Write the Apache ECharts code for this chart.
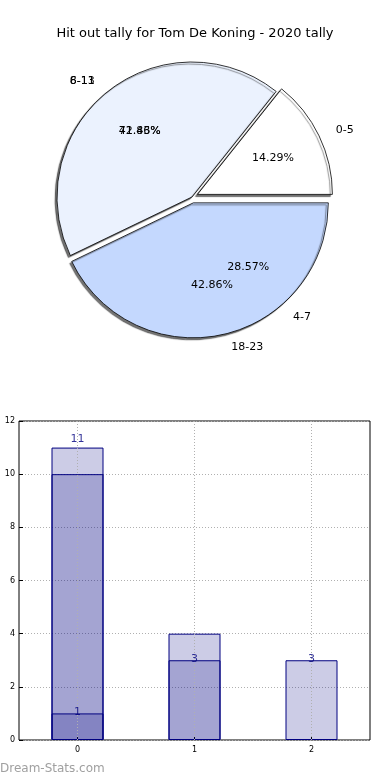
<!DOCTYPE html>
<html><head><meta charset="utf-8">
<script src="https://cdn.jsdelivr.net/npm/echarts@6/dist/echarts.min.js"></script>
<style>html,body{margin:0;padding:0;background:#fff;}#c{width:390px;height:780px;}</style>
</head><body><div id="c"></div>
<script>
// Pie (drawn): categories and counts
const pieNames = ['0-5', '6-11', '18-23'];
const pieValues = [1, 3, 3];
const pieColors = ['#ffffff', '#ebf2fe', '#c4d8fe'];
const pieExploded = [true, false, true];
// Second pie (labels only, overlapped in the original)
const pie2Names = ['8-13', '4-7'];
const pie2Values = [5, 2];
const pie2Exploded = [false, true];
// Bar chart
const barCats = ['0', '1', '2'];
const barLayer1 = [11, 4, 3];
const barLayer2 = [10, 3, 0];
const barLayer3 = [1, 0, 0];
const labelX = ['0', '0', '1', '2'];
const labelY = [11.3, 1.05, 3.05, 3.05];
const labelText = ['11', '1', '3', '3'];
const yTicks = [0, 2, 4, 6, 8, 10, 12];

const FONT = 'DejaVu Sans';
const CENTER = [192, 197];
const R = 135;

function pct(values) {
  const s = values.reduce((a, b) => a + b, 0);
  return p => (p.value / s * 100).toFixed(2) + '%';
}
function pieData(names, values, exploded, colors, transparent) {
  return names.map((n, i) => ({
    name: n, value: values[i], selected: exploded[i],
    itemStyle: transparent ? { color: 'rgba(0,0,0,0)', borderWidth: 0, shadowBlur: 0, shadowColor: 'rgba(0,0,0,0)' } : { color: colors[i] }
  }));
}
const nameLabel = { show: true, position: 'outside', formatter: '{b}', color: '#000', fontFamily: FONT, fontSize: 11 };
const basePie = {
  type: 'pie', center: CENTER, startAngle: 0, clockwise: false,
  selectedMode: 'multiple', selectedOffset: 6, avoidLabelOverlap: false,
  silent: true, animation: false,
  labelLayout: { hideOverlap: false },
  labelLine: { show: false, length: 13, length2: 0 },
  emphasis: { disabled: true }
};
const zeroToDash = arr => arr.map(v => v === 0 ? '-' : v);

const chart = echarts.init(document.getElementById('c'), null, { renderer: 'canvas' });
chart.setOption({
  animation: false,
  title: {
    text: 'Hit out tally for Tom De Koning - 2020 tally', left: 'center', top: 22,
    textStyle: { fontFamily: FONT, fontSize: 13, fontWeight: 'normal', color: '#000' }
  },
  graphic: [{
    type: 'text', left: 0, top: 763,
    style: { text: 'Dream-Stats.com', fill: '#a0a0a0', font: '12px "DejaVu Sans"' }
  }],
  grid: { left: 19, top: 421, width: 351, height: 319, show: true, borderColor: '#000', borderWidth: 1, backgroundColor: 'transparent' },
  xAxis: [{
    type: 'category', data: barCats, gridIndex: 0,
    axisLine: { show: false },
    axisTick: { show: true, inside: true, alignWithLabel: true, length: 4, lineStyle: { color: '#000' } },
    axisLabel: { fontFamily: FONT, fontSize: 8, color: '#000', margin: 6 },
    splitLine: { show: false }
  }],
  yAxis: [{
    type: 'value', min: 0, max: 12, interval: 2, gridIndex: 0,
    axisLine: { show: false },
    axisTick: { show: true, inside: true, length: 4, lineStyle: { color: '#000' } },
    axisLabel: { fontFamily: FONT, fontSize: 8, color: '#000', margin: 4, formatter: v => yTicks.includes(v) ? String(v) : '' },
    splitLine: { show: true, lineStyle: { color: '#b0b0b0', type: [1, 2], width: 1 } }
  }],
  series: [
    Object.assign({}, basePie, {
      radius: [0, R], z: 2,
      itemStyle: { borderColor: '#000', borderWidth: 0.8, shadowColor: 'rgba(0,0,0,0.55)', shadowBlur: 1, shadowOffsetX: -2, shadowOffsetY: 2 },
      label: nameLabel,
      data: pieData(pieNames, pieValues, pieExploded, pieColors, false)
    }),
    Object.assign({}, basePie, {
      radius: [0, R * 1.2], z: 3,
      label: { show: true, position: 'inside', formatter: pct(pieValues), color: '#000', fontFamily: FONT, fontSize: 11 },
      data: pieData(pieNames, pieValues, pieExploded, pieColors, true)
    }),
    Object.assign({}, basePie, {
      radius: [0, R], z: 3,
      label: nameLabel,
      data: pieData(pie2Names, pie2Values, pie2Exploded, null, true)
    }),
    Object.assign({}, basePie, {
      radius: [0, R * 1.2], z: 3,
      label: { show: true, position: 'inside', formatter: pct(pie2Values), color: '#000', fontFamily: FONT, fontSize: 11 },
      data: pieData(pie2Names, pie2Values, pie2Exploded, null, true)
    }),
    {
      type: 'bar', data: zeroToDash(barLayer1), barWidth: 52, barGap: '-100%', silent: true,
      itemStyle: { color: 'rgba(0,0,128,0.2)', borderColor: '#000080', borderWidth: 1 },
      markLine: {
        silent: true, symbol: 'none', label: { show: false },
        lineStyle: { color: '#b0b0b0', type: [1, 2], width: 1 },
        data: barCats.map(c => ({ xAxis: c }))
      }
    },
    {
      type: 'bar', data: zeroToDash(barLayer2), barWidth: 52, barGap: '-100%', silent: true,
      itemStyle: { color: 'rgba(0,0,128,0.2)', borderColor: '#000080', borderWidth: 1 }
    },
    {
      type: 'bar', data: zeroToDash(barLayer3), barWidth: 52, barGap: '-100%', silent: true,
      itemStyle: { color: 'rgba(0,0,128,0.2)', borderColor: '#000080', borderWidth: 1 }
    },
    {
      type: 'scatter', symbolSize: 0, silent: true, z: 10,
      data: labelX.map((x, i) => ({ value: [x, labelY[i]], name: labelText[i] })),
      label: { show: true, position: 'inside', formatter: '{b}', color: '#000080', fontFamily: FONT, fontSize: 11 }
    }
  ]
});
</script>
</body></html>
